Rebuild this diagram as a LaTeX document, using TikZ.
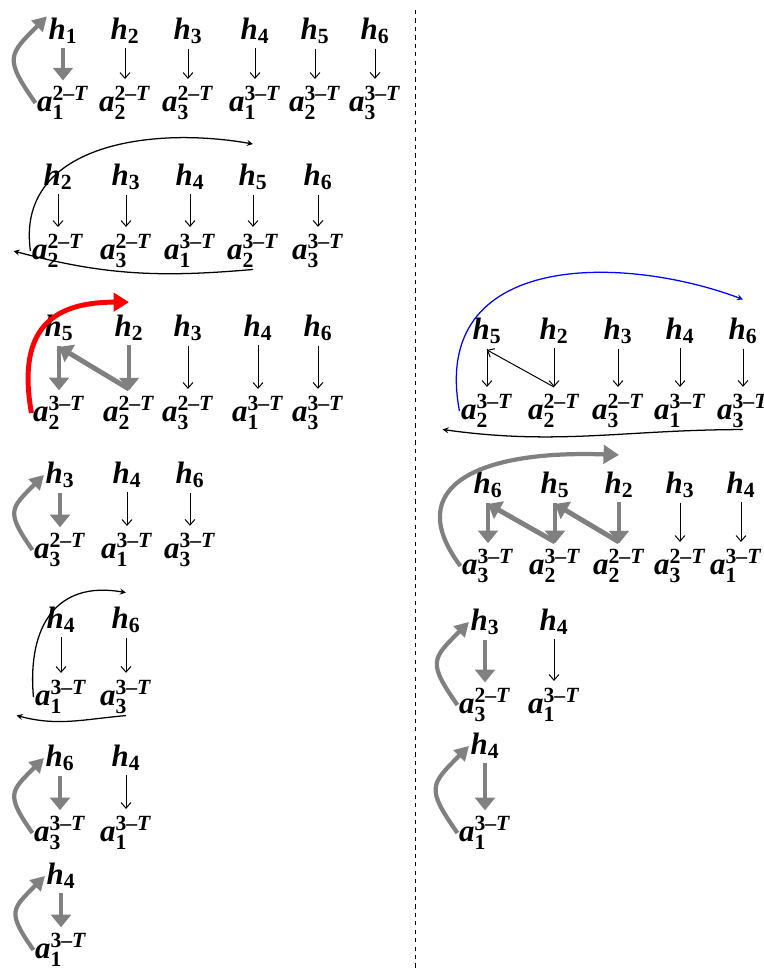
\documentclass[tikz,border=0pt]{standalone}
\usepackage{amsmath}
\usepackage{fontspec}
\setmainfont{Liberation Serif}
\usepackage{tikz}
\usetikzlibrary{arrows.meta,calc}

\newcommand{\hlab}[1]{\textbf{\textit{h}}$_{\textbf{#1}}$}
\newcommand{\alab}[2]{\textbf{\textit{a}}$_{\textbf{#1}}^{\textbf{#2--\textit{T}}}$}

\begin{document}
\begin{tikzpicture}[x=0.025cm,y=-0.025cm,
    lab/.style={inner sep=1pt,font=\fontsize{22}{25}\selectfont},
    thinarr/.style={line width=0.7pt,-{Straight Barb[length=4pt,width=7pt]},shorten <=2pt,shorten >=4pt},
    grayarr/.style={line width=3.5pt,gray,-{Triangle[length=9pt,width=14pt]},shorten <=2pt,shorten >=3pt},
    diag/.style={shorten <=0pt,shorten >=0pt},
    grayloop/.style={line width=3pt,gray,-{Triangle[length=10pt,width=11pt]},out=125,in=225,looseness=1.6},
    loopback/.style={line width=0.9pt,-stealth},
  ]
    \useasboundingbox (0,0) rectangle (763,972);
    % Divider
    \draw[dashed,line width=0.5pt] (415,10) -- (415,970);

    % Left, step 1
    \foreach \c/\x/\hn/\an/\tn in {1/63/1/1/2,2/125/2/2/2,3/188/3/3/2,4/255/4/1/3,5/315/5/2/3,6/375/6/3/3} {%
        \node[lab] (L1h\c) at (\x,31) {\hlab{\hn}};
        \node[lab] (L1a\c) at (\x,103) {\alab{\an}{\tn}};
    }
    \draw[grayarr] (L1h1.south) -- (L1h1.south |- L1a1.north);
    \foreach \c in {2,...,6} {%
        \draw[thinarr] (L1h\c.south) -- (L1h\c.south |- L1a\c.north);
    }
    \draw[grayloop] (L1a1.west) to (L1h1.north west);

    % Left, step 2
    \foreach \c/\x/\hn/\an/\tn in {1/58/2/2/2,2/126/3/3/2,3/190/4/1/3,4/253/5/2/3,5/318/6/3/3} {%
        \node[lab] (L2h\c) at (\x,177) {\hlab{\hn}};
        \node[lab] (L2a\c) at (\x,251) {\alab{\an}{\tn}};
    }
    \foreach \c in {1,...,5} {%
        \draw[thinarr] (L2h\c.south) -- (L2h\c.south |- L2a\c.north);
    }
    \draw[loopback] (L2a1.west) to[out=98,in=170,looseness=1.1] ([yshift=13pt]L2h4.north);
    \draw[loopback] (L2a4.south) to[out=185,in=-15] ([xshift=-12pt]L2a1.west);

    % Left, step 3
    \foreach \c/\x/\hn/\an/\tn in {1/59/5/2/3,2/129/2/2/2,3/188/3/3/2,4/258/4/1/3,5/318/6/3/3} {%
        \node[lab] (L3h\c) at (\x,328) {\hlab{\hn}};
        \node[lab] (L3a\c) at (\x,413) {\alab{\an}{\tn}};
    }
    \foreach \c in {1,2} {%
        \draw[grayarr] (L3h\c.south) -- (L3h\c.south |- L3a\c.north);
    }
    \foreach \c in {3,4,5} {%
        \draw[thinarr] (L3h\c.south) -- (L3h\c.south |- L3a\c.north);
    }
    \draw[grayarr,diag] ([yshift=4pt]L3a2.north) -- ([yshift=-3pt]L3h1.south);
    \draw[line width=3.5pt,red,-{Triangle[length=11pt,width=13pt]}] (L3a1.west) to[out=100,in=180,looseness=1.4] ([yshift=8pt]L3h2.north);

    % Left, step 4
    \foreach \c/\x/\hn/\an/\tn in {1/60/3/3/2,2/127/4/1/3,3/190/6/3/3} {%
        \node[lab] (L4h\c) at (\x,475) {\hlab{\hn}};
        \node[lab] (L4a\c) at (\x,550) {\alab{\an}{\tn}};
    }
    \draw[grayarr] (L4h1.south) -- (L4h1.south |- L4a1.north);
    \foreach \c in {2,3} {%
        \draw[thinarr] (L4h\c.south) -- (L4h\c.south |- L4a\c.north);
    }
    \draw[grayloop] (L4a1.west) to (L4h1.west);

    % Left, step 5
    \foreach \c/\x/\hn/\an/\tn in {1/61/4/1/3,2/126/6/3/3} {%
        \node[lab] (L5h\c) at (\x,620) {\hlab{\hn}};
        \node[lab] (L5a\c) at (\x,697) {\alab{\an}{\tn}};
    }
    \foreach \c in {1,2} {%
        \draw[thinarr] (L5h\c.south) -- (L5h\c.south |- L5a\c.north);
    }
    \draw[loopback] (L5a1.west) to[out=95,in=170,looseness=1.3] ([yshift=9pt]L5h2.north);
    \draw[loopback] (L5a2.south) to[out=185,in=-15] ([xshift=-12pt]L5a1.south west);

    % Left, step 6
    \foreach \c/\x/\hn/\an/\tn in {1/60/6/3/3,2/126/4/1/3} {%
        \node[lab] (L6h\c) at (\x,758) {\hlab{\hn}};
        \node[lab] (L6a\c) at (\x,833) {\alab{\an}{\tn}};
    }
    \draw[grayarr] (L6h1.south) -- (L6h1.south |- L6a1.north);
    \draw[thinarr] (L6h2.south) -- (L6h2.south |- L6a2.north);
    \draw[grayloop] (L6a1.west) to (L6h1.west);

    % Left, step 7
    \node[lab] (L7h1) at (61,876) {\hlab{4}};
    \node[lab] (L7a1) at (61,950) {\alab{1}{3}};
    \draw[grayarr] (L7h1.south) -- (L7h1.south |- L7a1.north);
    \draw[grayloop] (L7a1.west) to (L7h1.west);

    % Right, step 1
    \foreach \c/\x/\hn/\an/\tn in {1/487/5/2/3,2/554/2/2/2,3/618/3/3/2,4/680/4/1/3,5/743/6/3/3} {%
        \node[lab] (R1h\c) at (\x,331) {\hlab{\hn}};
        \node[lab] (R1a\c) at (\x,411) {\alab{\an}{\tn}};
    }
    \foreach \c in {1,...,5} {%
        \draw[thinarr] (R1h\c.south) -- (R1h\c.south |- R1a\c.north);
    }
    \draw[thinarr,diag] ([yshift=4pt]R1a2.north) -- ([yshift=-3pt]R1h1.south);
    \draw[loopback,blue] (R1a1.west) .. controls +(-30,-160) and +(-120,-45) .. ([yshift=12pt]R1h5.north);
    \draw[loopback] (R1a5.south) to[out=180,in=-8] ([xshift=-12pt]R1a1.south west);

    % Right, step 2
    \foreach \c/\x/\ax/\hn/\an/\tn in {1/488/488/6/3/3,2/555/555/5/2/3,3/619/619/2/2/2,4/680/680/3/3/2,5/741/736/4/1/3} {%
        \node[lab] (R2h\c) at (\x,485) {\hlab{\hn}};
        \node[lab] (R2a\c) at (\ax,566) {\alab{\an}{\tn}};
    }
    \foreach \c in {1,2,3} {%
        \draw[grayarr] (R2h\c.south) -- (R2h\c.south |- R2a\c.north);
    }
    \foreach \c in {4,5} {%
        \draw[thinarr] (R2h\c.south) -- (R2h\c.south |- R2a\c.north);
    }
    \draw[grayarr,diag] ([yshift=4pt]R2a2.north) -- ([yshift=-3pt]R2h1.south);
    \draw[grayarr,diag] ([yshift=4pt]R2a3.north) -- ([yshift=-3pt]R2h2.south);
    \draw[line width=3pt,gray,-{Triangle[length=11pt,width=13pt]}] (R2a1.west) .. controls +(-60,-80) and +(-140,-5) .. ([yshift=11pt]R2h3.north);

    % Right, step 3
    \foreach \c/\x/\hn/\an/\tn in {1/485/3/3/2,2/554/4/1/3} {%
        \node[lab] (R3h\c) at (\x,622) {\hlab{\hn}};
        \node[lab] (R3a\c) at (\x,705) {\alab{\an}{\tn}};
    }
    \draw[grayarr] (R3h1.south) -- (R3h1.south |- R3a1.north);
    \draw[thinarr] (R3h2.south) -- (R3h2.south |- R3a2.north);
    \draw[grayloop] (R3a1.west) to (R3h1.west);

    % Right, step 4
    \node[lab] (R4h1) at (485,746) {\hlab{4}};
    \node[lab] (R4a1) at (485,833) {\alab{1}{3}};
    \draw[grayarr] (R4h1.south) -- (R4h1.south |- R4a1.north);
    \draw[grayloop] (R4a1.west) to (R4h1.west);
\end{tikzpicture}
\end{document}
